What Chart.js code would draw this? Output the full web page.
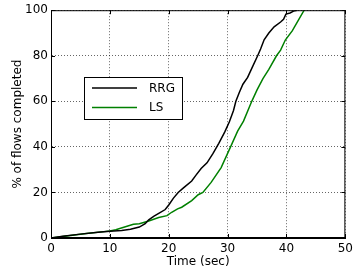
<!DOCTYPE html>
<html>
<head>
<meta charset="utf-8">
<script src="https://cdn.jsdelivr.net/npm/chart.js@4.4.0/dist/chart.umd.min.js"></script>
<style>
  html, body { margin: 0; padding: 0; background: #fff; }
  #wrap { width: 357px; height: 271px; }
</style>
</head>
<body>
<div id="wrap"><canvas id="cdf" width="357" height="271"></canvas></div>
<script>
// valeurs (CDF des flux)
const rrgTime = [0, 2, 5, 8, 10, 12, 13.5, 15, 16, 16.6, 17.5, 18.3, 19.4, 20, 20.8, 21.6, 22.5, 23.9, 24.6, 25.5, 26.5, 27.5, 28.5, 29.5, 30.3, 31, 31.4, 32, 32.6, 33.4, 34.2, 35.1, 35.6, 36.2, 37, 37.9, 39, 39.5, 39.9, 40.6, 41.2, 41.8];
const rrgPct  = [0, 0.8, 1.7, 2.5, 3.0, 3.3, 3.8, 4.8, 6.3, 8, 9.6, 10.8, 12.5, 14.5, 17.5, 20, 22, 25, 27.5, 30.5, 33, 37, 41.5, 46.5, 51, 56, 60, 64, 67.5, 70.5, 75, 80, 83, 87, 90, 92.7, 94.8, 96, 98.3, 98.8, 99.6, 100];
const lsTime  = [0, 3, 6, 9, 10, 11, 12.5, 14, 15, 16.6, 18.3, 19.7, 20.5, 21.5, 22.2, 23.9, 25, 25.8, 27.2, 28.9, 30.5, 31.7, 32.7, 34.1, 35, 36, 37, 38.3, 39, 39.8, 41, 42, 43];
const lsPct   = [0, 1, 2, 2.8, 3.1, 3.6, 4.8, 6, 6.3, 7.5, 9, 9.8, 11.3, 12.8, 13.5, 16.4, 19, 20, 24.4, 30.9, 40, 46.9, 51.3, 60, 65, 70, 74, 80, 82.5, 86.9, 91, 95.5, 100];

const seriesNames = ['RRG', 'LS'];
const seriesColors = ['#000000', '#008000'];
const xTicks = [0, 10, 20, 30, 40, 50];
const yTicks = [0, 20, 40, 60, 80, 100];

const FONT = 'DejaVu Sans';
const GRID = 'rgba(0,0,0,0.6)';

const toPoints = (xs, ys) => xs.map((x, i) => ({ x: x, y: ys[i] }));

// cadre, petites graduations vers l'intérieur, légende
const frameAndLegend = {
    id: 'frameAndLegend',
    afterDraw(chart) {
        const { ctx, chartArea: a, scales } = chart;
        ctx.save();
        ctx.strokeStyle = '#000';
        ctx.lineWidth = 1;
        ctx.setLineDash([]);
        ctx.strokeRect(a.left + 0.5, a.top + 0.5, a.right - a.left - 1, a.bottom - a.top - 1);

        // graduations
        const len = 4;
        ctx.beginPath();
        xTicks.forEach(v => {
            const px = Math.round(scales.x.getPixelForValue(v)) + 0.5;
            ctx.moveTo(px, a.bottom); ctx.lineTo(px, a.bottom - len);
            ctx.moveTo(px, a.top); ctx.lineTo(px, a.top + len);
        });
        yTicks.forEach(v => {
            const py = Math.round(scales.y.getPixelForValue(v)) + 0.5;
            ctx.moveTo(a.left, py); ctx.lineTo(a.left + len, py);
            ctx.moveTo(a.right, py); ctx.lineTo(a.right - len, py);
        });
        ctx.stroke();

        // légende
        const bx = 84, by = 77, bw = 98, bh = 42;
        ctx.fillStyle = '#fff';
        ctx.fillRect(bx, by, bw, bh);
        ctx.strokeStyle = '#000';
        ctx.strokeRect(bx + 0.5, by + 0.5, bw, bh);
        ctx.font = '12px "' + FONT + '"';
        ctx.textBaseline = 'middle';
        chart.data.datasets.forEach((ds, i) => {
            const y = by + 11 + i * 19.5;
            ctx.strokeStyle = ds.borderColor;
            ctx.lineWidth = 1.5;
            ctx.beginPath();
            ctx.moveTo(bx + 8, y); ctx.lineTo(bx + 53, y);
            ctx.stroke();
            ctx.fillStyle = '#000';
            ctx.fillText(ds.label, bx + 65, y + 0.5);
        });
        ctx.restore();
    }
};

new Chart(document.getElementById('cdf'), {
    type: 'line',
    data: {
        datasets: [
            { label: seriesNames[0], data: toPoints(rrgTime, rrgPct), borderColor: seriesColors[0], borderWidth: 1.5, pointRadius: 0, tension: 0, fill: false },
            { label: seriesNames[1], data: toPoints(lsTime, lsPct), borderColor: seriesColors[1], borderWidth: 1.5, pointRadius: 0, tension: 0, fill: false }
        ]
    },
    options: {
        responsive: false,
        animation: false,
        layout: { padding: { top: 8, right: 8, left: 0, bottom: 0 } },
        plugins: {
            legend: { display: false },
            tooltip: { enabled: false }
        },
        scales: {
            x: {
                type: 'linear',
                min: 0, max: 50,
                afterBuildTicks: s => { s.ticks = xTicks.map(v => ({ value: v })); },
                afterFit: s => { s.height = 33; },
                grid: { color: GRID, lineWidth: 1, drawTicks: false, borderDash: [1, 2] },
                border: { display: true, color: '#000', dash: [1, 2] },
                ticks: { color: '#000', font: { family: FONT, size: 12 }, padding: 4, maxRotation: 0 },
                title: { display: true, text: 'Time (sec)', color: '#000', font: { family: FONT, size: 12 }, padding: { top: 0, bottom: 2 } }
            },
            y: {
                min: 0, max: 100,
                afterBuildTicks: s => { s.ticks = yTicks.map(v => ({ value: v })); },
                afterFit: s => { s.width = 51; },
                grid: { color: GRID, lineWidth: 1, drawTicks: false, borderDash: [1, 2] },
                border: { display: true, color: '#000', dash: [1, 2] },
                ticks: { color: '#000', font: { family: FONT, size: 12 }, padding: 3 },
                title: { display: true, text: '% of flows completed', color: '#000', font: { family: FONT, size: 12 }, padding: { top: 11, bottom: 0 } }
            }
        }
    },
    plugins: [frameAndLegend]
});
</script>
</body>
</html>
